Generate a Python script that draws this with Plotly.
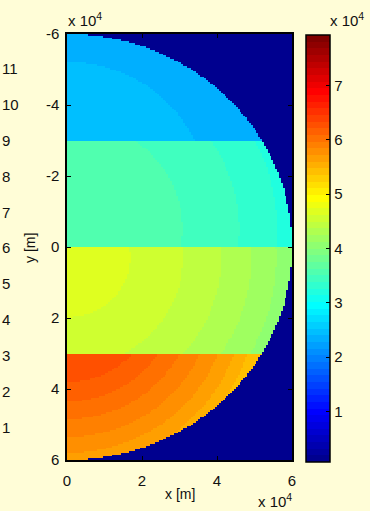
import numpy as np
import plotly.graph_objects as go

# ---------------- data ----------------
# horizontal bands (y limits, metres)
band_edges = [-60000, -30000, 0, 30000, 60000]
# centre (y) of the ring pattern inside each band
band_centres = [-15000, -5000, 3000, 15000]
# ring outer radii (m) measured from each band's centre, and ring values
ring_radii = [
    [37100],
    [30800, 45800, 56000],
    [16800, 30900, 41100, 49100, 55800],
    [23000, 28500, 33500, 38500, 43000, 47000, 50400],
]
ring_values = [
    [24600, 23400],
    [35700, 34500, 33200, 32000],
    [46800, 45500, 44300, 43100, 41800, 40600],
    [62700, 61500, 60300, 59000, 57800, 56600, 55300, 54100],
]
disc_radius = 60000
outside_value = 700
c_min, c_max = 700, 79300

x_cells = np.arange(250, 60000, 500)
y_cells = np.arange(-59750, 60000, 500)

x_ticks = [0, 20000, 40000, 60000]
x_ticktext = ["0", "2", "4", "6"]
y_ticks = [-60000, -40000, -20000, 0, 20000, 40000, 60000]
y_ticktext = ["-6", "-4", "-2", "0", "2", "4", "6"]
cb_ticks = [10000, 20000, 30000, 40000, 50000, 60000, 70000]
cb_ticktext = ["1", "2", "3", "4", "5", "6", "7"]
side_labels = ["1", "2", "3", "4", "5", "6", "7", "8", "9", "10", "11"]

# ---------------- build the field table ----------------
X, Y = np.meshgrid(x_cells, y_cells)
Z = np.full(X.shape, float(outside_value))
inside = np.hypot(X, Y) <= disc_radius
for b in range(4):
    lo, hi = band_edges[b], band_edges[b + 1]
    in_band = inside & (Y >= lo) & (Y < hi)
    r = np.hypot(X, Y - band_centres[b])
    idx = np.searchsorted(ring_radii[b], r)
    vals = np.array(ring_values[b])[idx]
    Z[in_band] = vals[in_band]

# ---------------- MATLAB jet(64) colour scale ----------------
def jet_rgb(i):
    if i <= 24:
        r = 0.0
    elif i <= 40:
        r = (i - 24) / 16
    elif i <= 56:
        r = 1.0
    else:
        r = 1 - (i - 56) / 16
    if i <= 8:
        g = 0.0
    elif i <= 24:
        g = (i - 8) / 16
    elif i <= 40:
        g = 1.0
    elif i <= 56:
        g = (56 - i) / 16
    else:
        g = 0.0
    if i <= 8:
        bl = (i + 8) / 16
    elif i <= 24:
        bl = 1.0
    elif i <= 40:
        bl = (40 - i) / 16
    else:
        bl = 0.0
    return "rgb(%d,%d,%d)" % (round(r * 255), round(g * 255), round(bl * 255))

colorscale = []
for k in range(64):
    c = jet_rgb(k + 1)
    colorscale.append([k / 64, c])
    colorscale.append([(k + 1) / 64, c])

# ---------------- figure ----------------
W, H = 370, 511
L, R, T, B = 67, 78, 34, 51
pw, ph = W - L - R, H - T - B

def px(xp):
    return (xp - L) / pw

def py(yp):
    return (H - B - yp) / ph

FONT = "Liberation Sans, Arial, sans-serif"
TXT = "#111111"

fig = go.Figure(go.Heatmap(
    x=x_cells, y=y_cells, z=Z,
    colorscale=colorscale, zmin=c_min, zmax=c_max, zsmooth=False,
    hoverinfo="skip",
    colorbar=dict(
        x=px(306), xanchor="left", xpad=0,
        y=py(248.5), yanchor="middle", ypad=0,
        lenmode="pixels", len=427, thickness=24, thicknessmode="pixels",
        outlinecolor="black", outlinewidth=1.5,
        tickvals=cb_ticks, ticktext=cb_ticktext,
        ticks="inside", ticklen=4, tickcolor="black",
        tickfont=dict(family=FONT, size=15, color=TXT),
    ),
))

axis_common = dict(
    showline=True, linecolor="black", linewidth=1.5, mirror="ticks",
    ticks="inside", ticklen=4, tickcolor="black", showgrid=False,
    zeroline=False, tickfont=dict(family=FONT, size=15, color=TXT),
)
fig.update_xaxes(range=[0, 60000], tickvals=x_ticks, ticktext=x_ticktext,
                 ticklabelstandoff=6, **axis_common)
fig.update_yaxes(range=[60000, -60000], tickvals=y_ticks, ticktext=y_ticktext,
                 ticklabelstandoff=3, **axis_common)

ann = []
def add(text, xp, yp, xanchor="left", angle=0, size=15):
    ann.append(dict(text=text, x=px(xp), y=py(yp), xref="paper", yref="paper",
                    xanchor=xanchor, yanchor="middle", showarrow=False,
                    textangle=angle, font=dict(family=FONT, size=size, color=TXT)))

add("x 10<sup>4</sup>", 66, 20)
add("x 10<sup>4</sup>", 294, 500, xanchor="right")
add("x 10<sup>4</sup>", 328, 19)
add("x [m]", 180, 494, xanchor="center", size=14)
add("y [m]", 30, 248, xanchor="center", angle=-90, size=14)
for k, lab in enumerate(side_labels):
    add(lab, 0, 427 - 35.8 * k)

fig.update_layout(
    width=W, height=H, autosize=False,
    margin=dict(l=L, r=R, t=T, b=B, pad=0),
    paper_bgcolor="#FFFDD7", plot_bgcolor="#FFFDD7",
    annotations=ann, showlegend=False,
)

fig.write_html("out.html")
